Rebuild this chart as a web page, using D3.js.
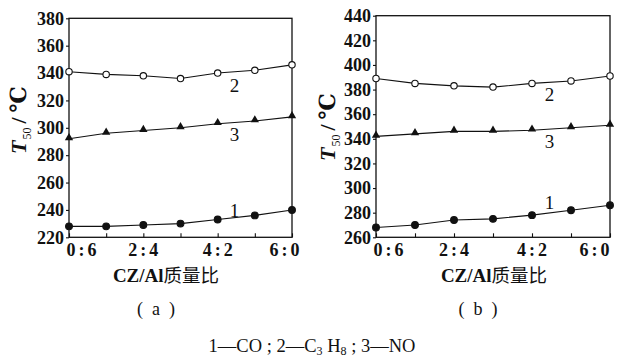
<!DOCTYPE html>
<html>
<head>
<meta charset="utf-8">
<script src="https://cdn.jsdelivr.net/npm/d3@7"></script>
<style>
  body { margin: 0; background: #fff; }
  svg { display: block; }
</style>
</head>
<body>
<svg id="chart" width="623" height="357"></svg>
<script>
// CZ/Al mass ratio categories
const ratios = ['0:6', '1:5', '2:4', '3:3', '4:2', '5:1', '6:0'];
const shownRatios = ['0:6', '2:4', '4:2', '6:0'];

// panel (a) T50 values, °C
const coA = [228, 228, 229, 230, 233, 236, 240];
const c3h8A = [341, 339, 338, 336, 340, 342, 346];
const noA = [292, 296, 298, 300, 303, 305, 308];
const yTicksA = [220, 240, 260, 280, 300, 320, 340, 360, 380];

// panel (b) T50 values, °C
const coB = [268, 270, 274, 275, 278, 282, 286];
const c3h8B = [389, 385, 383, 382, 385, 387, 391];
const noB = [342, 344, 346, 346, 347, 349, 351];
const yTicksB = [260, 280, 300, 320, 340, 360, 380, 400, 420, 440];

// curve number labels: [text, x index, value]
const curveLabelsA = [['1', 4.45, 240], ['2', 4.45, 331], ['3', 4.45, 295]];
const curveLabelsB = [['1', 4.45, 288], ['2', 4.45, 376], ['3', 4.45, 338]];

const SERIF = "'Liberation Serif', 'Times New Roman', Times, 'DejaVu Serif', serif";
const CJK = "'Noto Sans CJK SC', sans-serif";

const svg = d3.select('#chart')
  .attr('font-family', SERIF);

function drawPanel(cfg) {
  const g = svg.append('g');
  const x = d3.scaleLinear().domain([0, ratios.length - 1]).range([cfg.left, cfg.right]);
  const y = d3.scaleLinear().domain([cfg.yTicks[0], cfg.yTicks[cfg.yTicks.length - 1]])
    .range([cfg.bottom, cfg.top]);

  // x axis, ticks pointing in
  const xAxis = g.append('g')
    .attr('transform', `translate(0,${cfg.bottom})`)
    .call(d3.axisBottom(x)
      .tickValues(d3.range(ratios.length))
      .tickSizeInner(-4).tickSizeOuter(0)
      .tickPadding(6)
      .tickFormat(i => shownRatios.includes(ratios[i]) ? ratios[i] : ''));
  xAxis.attr('font-family', SERIF);
  xAxis.select('.domain').remove();
  xAxis.selectAll('.tick line').attr('stroke', '#111').attr('stroke-width', 1.1);
  xAxis.selectAll('.tick text')
    .style('font-family', SERIF)
    .attr('font-size', 18).attr('font-weight', 'bold')
    .attr('letter-spacing', 3)
    .attr('fill', '#111')
    .attr('text-anchor', (d, i) => i === 0 ? 'start' : (i === ratios.length - 1 ? 'end' : 'middle'))
    .attr('dx', (d, i) => i === 0 ? -3 : (i === ratios.length - 1 ? cfg.lastDx : 1));

  // y axis, short outer ticks
  const yAxis = g.append('g')
    .attr('transform', `translate(${cfg.left},0)`)
    .call(d3.axisLeft(y).tickValues(cfg.yTicks).tickSizeInner(3).tickSizeOuter(0).tickPadding(2));
  yAxis.attr('font-family', SERIF);
  yAxis.select('.domain').remove();
  yAxis.selectAll('.tick line').attr('stroke', '#111').attr('stroke-width', 1.1);
  yAxis.selectAll('.tick text')
    .style('font-family', SERIF)
    .attr('font-size', 18).attr('font-weight', 'bold').attr('fill', '#111');

  // frame
  g.append('rect')
    .attr('x', cfg.left).attr('y', cfg.top)
    .attr('width', cfg.right - cfg.left).attr('height', cfg.bottom - cfg.top)
    .attr('fill', 'none').attr('stroke', '#111').attr('stroke-width', 1.3);

  const line = d3.line().x((d, i) => x(i)).y(d => y(d));
  const series = [
    { vals: cfg.co, mark: 'dot' },
    { vals: cfg.c3h8, mark: 'ring' },
    { vals: cfg.no, mark: 'tri' }
  ];

  series.forEach(s => {
    g.append('path').datum(s.vals)
      .attr('d', line)
      .attr('fill', 'none').attr('stroke', '#111').attr('stroke-width', 1.1);

    const pts = g.append('g').selectAll('.pt').data(s.vals).enter();
    if (s.mark === 'tri') {
      pts.append('path')
        .attr('d', d3.symbol().type(d3.symbolTriangle).size(30))
        .attr('transform', (d, i) => `translate(${x(i)},${y(d) - 1})`)
        .attr('fill', '#111');
    } else {
      pts.append('circle')
        .attr('cx', (d, i) => x(i)).attr('cy', d => y(d))
        .attr('r', s.mark === 'dot' ? 3.4 : 3.2)
        .attr('fill', s.mark === 'dot' ? '#111' : '#fff')
        .attr('stroke', '#111').attr('stroke-width', 1.1);
    }
  });

  g.selectAll('.curve-label').data(cfg.curveLabels).enter()
    .append('text')
    .style('font-family', SERIF)
    .attr('x', d => x(d[1])).attr('y', d => y(d[2]))
    .attr('dy', '0.35em')
    .attr('text-anchor', 'middle')
    .attr('font-size', 19)
    .attr('fill', '#111')
    .text(d => d[0]);

  // axis title
  const title = g.append('text')
    .attr('x', cfg.titleX).attr('y', 282)
    .attr('text-anchor', 'middle')
    .attr('fill', '#111')
    .attr('font-size', 19);
  title.append('tspan').style('font-family', SERIF).attr('font-weight', 'bold').text('CZ/Al');
  title.append('tspan').style('font-family', CJK).attr('font-size', 18.5).text('质量比');

  // y title: T50 / ℃
  const yt = g.append('text')
    .attr('transform', `translate(${cfg.yTitleX},${cfg.yTitleY}) rotate(-90)`)
    .attr('text-anchor', 'middle')
    .attr('fill', '#111')
    .style('font-family', SERIF)
    .attr('font-size', 22);
  yt.append('tspan').attr('font-style', 'italic').attr('font-weight', 'bold').text('T');
  yt.append('tspan').attr('font-size', 12).attr('dy', 5).attr('dx', 1).text('50');
  yt.append('tspan').attr('dy', -5).attr('dx', 4).attr('font-weight', 'bold').text('/');
  yt.append('tspan').attr('dx', 5).attr('font-weight', 'bold').text('℃');

  svg.append('text')
    .style('font-family', SERIF)
    .attr('x', cfg.panelX).attr('y', 315)
    .attr('text-anchor', 'middle')
    .attr('font-size', 18)
    .attr('fill', '#111')
    .text(cfg.panelLabel);
}

drawPanel({
  left: 69, right: 292, top: 18.3, bottom: 237.3,
  yTicks: yTicksA, co: coA, c3h8: c3h8A, no: noA,
  curveLabels: curveLabelsA, lastDx: 10,
  titleX: 166, yTitleX: 26, yTitleY: 120,
  panelX: 156, panelLabel: '(\u2002a\u2002)'
});

drawPanel({
  left: 376, right: 610, top: 15.7, bottom: 237.3,
  yTicks: yTicksB, co: coB, c3h8: c3h8B, no: noB,
  curveLabels: curveLabelsB, lastDx: 2,
  titleX: 494, yTitleX: 335, yTitleY: 127,
  panelX: 478, panelLabel: '(\u2002b\u2002)'
});

// caption
const cap = svg.append('text')
  .style('font-family', SERIF)
  .attr('x', 312).attr('y', 352)
  .attr('text-anchor', 'middle')
  .attr('fill', '#111')
  .attr('font-size', 18.5);
cap.append('tspan').text('1—CO ; 2—C');
cap.append('tspan').attr('font-size', 12).attr('dy', 3).text('3');
cap.append('tspan').attr('dy', -3).text(' H');
cap.append('tspan').attr('font-size', 12).attr('dy', 3).text('8');
cap.append('tspan').attr('dy', -3).text(' ; 3—NO');
</script>
</body>
</html>
